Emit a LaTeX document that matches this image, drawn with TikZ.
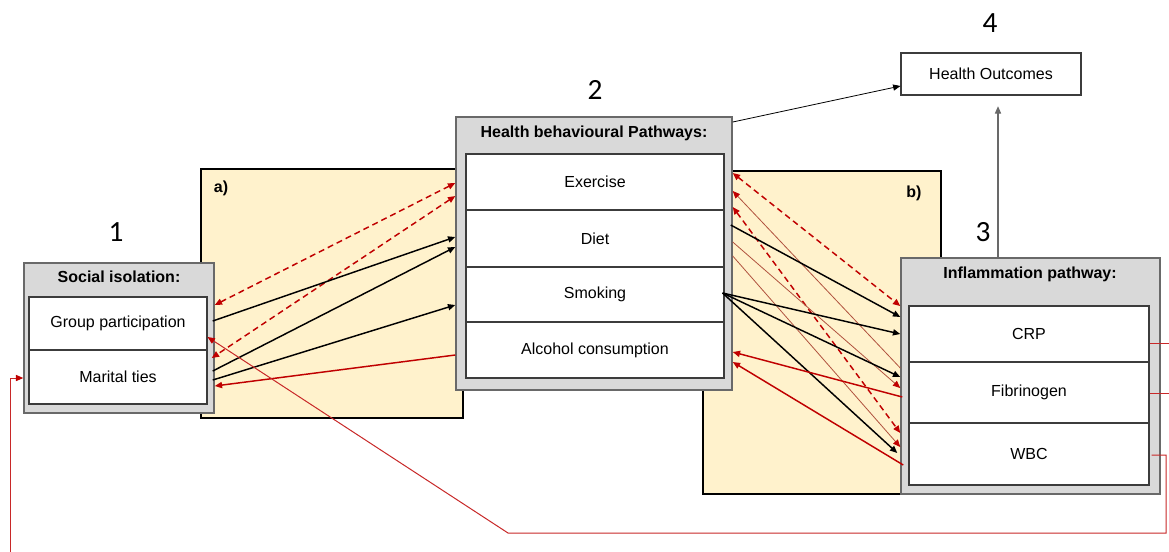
\documentclass[tikz,border=0pt]{standalone}
\usepackage{fontspec}
\setmainfont{Liberation Sans}
\newfontfamily\numfont{Carlito}
\usetikzlibrary{arrows.meta,fit,calc}

\definecolor{zoneyellow}{RGB}{255,242,204}
\definecolor{boxgray}{RGB}{217,217,217}
\definecolor{boxedge}{RGB}{105,105,105}
\definecolor{rowedge}{RGB}{60,60,60}
\definecolor{linkred}{RGB}{192,0,0}
\definecolor{thinred}{RGB}{176,82,62}
\definecolor{loopred}{RGB}{200,40,40}

\begin{document}
\begin{tikzpicture}[x=0.75pt,y=-0.75pt,
  zone/.style={draw=black,line width=1.5pt,fill=zoneyellow},
  outerbox/.style={draw=boxedge,line width=1.1pt,fill=boxgray,inner sep=0pt},
  rowtext/.style={font=\fontsize{12}{14}\selectfont,inner sep=0pt},
  rowbox/.style={draw=rowedge,line width=0.8pt,fill=white,inner sep=0pt,
    label={[rowtext]center:#1}},
  header/.style={font=\bfseries\fontsize{12}{14}\selectfont},
  zonelabel/.style={font=\bfseries\fontsize{12}{14}\selectfont},
  stage/.style={font=\numfont\fontsize{22}{26}\selectfont},
  tip/.style={-{Triangle[length=5.5pt,width=4.6pt]}},
  redtip/.style={-{Triangle[length=5.5pt,width=4.6pt,color=linkred]}},
  twotips/.style={{Triangle[length=5.5pt,width=4.6pt]}-{Triangle[length=5.5pt,width=4.6pt]}},
  blk/.style={draw=black,line width=1.1pt,tip},
  redarr/.style={draw=linkred,line width=1.1pt,tip},
  reddash/.style={draw=linkred,line width=1.1pt,dash pattern=on 4.5pt off 3pt,twotips},
  thinarr/.style={draw=thinred,line width=0.6pt,redtip},
  loopline/.style={draw=loopred,line width=0.75pt},
]
\useasboundingbox (0,0) rectangle (1169,551);
\clip (0,0) rectangle (1169,551);
\fill[white] (0,0) rectangle (1169,551);

% shaded zones behind the pathways
\node[zone,inner sep=0pt,fit={(201,169)(463,418)}] (za) {};
\node[zone,inner sep=0pt,fit={(703,171)(941,494)}] (zb) {};
\node[zonelabel] at (221,188) {a)};
\node[zonelabel] at (914,193) {b)};

% stage numbers
\node[stage] at (116,232) {1};
\node[stage] at (595,90) {2};
\node[stage] at (983,232) {3};
\node[stage] at (990,23) {4};

% 1: social isolation
\node[outerbox,fit={(24,263)(214,413)}] (si) {};
\node[header] at (119,277) {Social isolation:};
\node[rowbox=Group participation,fit={(29,297)(207,350)}] (gp) {};
\node[rowbox=Marital ties,fit={(29,350)(207,404)}] (mt) {};

% 2: health behaviours
\node[outerbox,fit={(456,117)(732,390)}] (hb) {};
\node[header] at (594,133) {Health behavioural Pathways:};
\node[rowbox=Exercise,fit={(466,154)(724,210)}] (ex) {};
\node[rowbox=Diet,fit={(466,210)(724,267)}] (di) {};
\node[rowbox=Smoking,fit={(466,267)(724,322)}] (sm) {};
\node[rowbox=Alcohol consumption,fit={(466,322)(724,378)}] (al) {};

% 3: inflammation
\node[outerbox,fit={(901,258)(1160,494)}] (inf) {};
\node[header] at (1030,274) {Inflammation pathway:};
\node[rowbox=CRP,fit={(909,306)(1149,362)}] (crp) {};
\node[rowbox=Fibrinogen,fit={(909,362)(1149,423)}] (fib) {};
\node[rowbox=WBC,fit={(909,423)(1149,485)}] (wbc) {};

% 4: outcomes
\node[rowbox=Health Outcomes,fit={(901,53)(1081,95)}] (ho) {};

% links to the outcomes box
\draw[draw=black,line width=0.6pt,tip] (hb.east |- 0,122) -- (ho.west |- 0,86);
\draw[draw=boxedge,line width=0.8pt,tip,shorten >=8pt] (inf.north -| 998,0) -- (ho.south -| 998,0);

% zone a): social isolation <-> behaviours
\draw[reddash] (hb.west |- 0,183) -- (si.east |- 0,305);
\draw[reddash] (hb.west |- 0,196) -- ($(si.east |- 0,358)+(-3,0)$);
\draw[blk] ($(si.east |- 0,321)+(-2,0)$) -- (hb.west |- 0,237);
\draw[blk] ($(si.east |- 0,371)+(-2,0)$) -- (hb.west |- 0,247);
\draw[blk] ($(si.east |- 0,380)+(-2,0)$) -- (hb.west |- 0,305);
\draw[redarr] (hb.west |- 0,355) -- (si.east |- 0,386);

% zone b): behaviours <-> inflammation
\draw[reddash] (hb.east |- 0,173) -- (inf.west |- 0,306);
\draw[reddash] (hb.east |- 0,207) -- (inf.west |- 0,433);
\draw[thinarr] (inf.west |- 0,368) -- (hb.east |- 0,191);
\draw[thinarr] (hb.east |- 0,242) -- (inf.west |- 0,388);
\draw[thinarr] (hb.east |- 0,256) -- (inf.west |- 0,447);
\draw[blk] ($(hb.east |- 0,225)+(-2,0)$) -- (inf.west |- 0,317);
\draw[blk] ($(sm.east |- 0,293)+(-2,0)$) -- (inf.west |- 0,334);
\draw[blk] ($(sm.east |- 0,293)+(-2,0)$) -- (inf.west |- 0,377);
\draw[blk] ($(sm.east |- 0,293)+(-2,0)$) -- ($(inf.west |- 0,453)+(-3,0)$);
\draw[redarr] ($(inf.west |- 0,397)+(2,0)$) -- (hb.east |- 0,352);
\draw[redarr] ($(inf.west |- 0,465)+(3,0)$) -- (hb.east |- 0,362);

% feedback lines leaving the inflammation markers
\coordinate (crpout) at (1175,343);
\coordinate (fibout) at (1175,393);
\coordinate (wbcturn) at (1166,455);
\coordinate (wbcdown) at (1166,533);
\coordinate (wbcbend) at (508,533);
\coordinate (mtbottom) at (10,560);
\coordinate (mtturn) at (10,378);
\draw[loopline] (crp.east |- 0,343) -- (crpout);
\draw[loopline] (fib.east |- 0,393) -- (fibout);
\draw[loopline,redtip]
  ($(wbc.east |- 0,455)+(2,0)$) -- (wbcturn) -- (wbcdown) -- (wbcbend) -- (gp.east |- 0,337);
\draw[loopline,redtip] (mtbottom) -- (mtturn) -- (si.west |- 0,378);
\end{tikzpicture}
\end{document}
